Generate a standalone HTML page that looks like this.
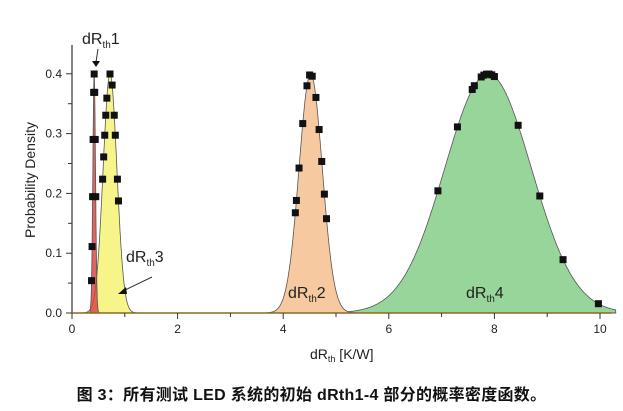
<!DOCTYPE html>
<html><head><meta charset="utf-8"><style>
body{margin:0;background:#fff;width:623px;height:411px;overflow:hidden}
svg text{font-family:"Liberation Sans",sans-serif;fill:#222}
.cap{position:absolute;left:0;top:381px;width:623px;text-align:center;font:bold 16px "Liberation Sans","Noto Sans CJK SC",sans-serif;color:#111;letter-spacing:0.3px}
</style></head><body>
<svg id="s" width="623" height="411" style="position:absolute;left:0;top:0"></svg>
<div class="cap">图 3：所有测试 LED 系统的初始 dRth1-4 部分的概率密度函数。</div>
<script>
const X=x=>72+x*52.8, Y=y=>313-y*597.5;
const s=document.getElementById('s');let h='';
function curve(m,sd,fill,pts){
 let d='M'+X(0)+','+Y(0);
 for(let x=0;x<=10.3;x+=0.005){d+=' L'+X(x).toFixed(1)+','+Y(0.4*Math.exp(-((x-m)**2)/(2*sd*sd))).toFixed(1);}
 d+=' L'+X(10.3)+','+Y(0)+' Z';
 h+=`<path d="${d}" fill="${fill}" stroke="#555" stroke-width="0.8"/>`;
 return pts.map(x=>[x,0.4*Math.exp(-((x-m)**2)/(2*sd*sd))]);
}
let P=[];
P=P.concat(curve(7.88,0.82,'#98d59a',[6.93,7.3,7.58,7.62,7.75,7.8,7.85,7.9,7.95,8.0,8.45,8.86,9.3,9.97]));
P=P.concat(curve(4.52,0.22,'#f6c9a0',[4.23,4.25,4.3,4.37,4.45,4.5,4.55,4.62,4.68,4.73,4.78,4.82]));
P=P.concat(curve(0.72,0.13,'#f7f58a',[0.58,0.6,0.62,0.64,0.66,0.72,0.76,0.8,0.82,0.86,0.88]));
P=P.concat(curve(0.42,0.025,'rgba(220,60,60,0.8)',[0.37,0.38,0.39,0.4,0.41,0.42,0.43,0.44,0.45]));
P.forEach(([x,y])=>{h+=`<rect x="${X(x)-3.5}" y="${Y(y)-3.5}" width="7" height="7" fill="#111"/>`;});
h+=`<line x1="72" y1="45" x2="72" y2="313" stroke="#333" stroke-width="1.2"/><line x1="72" y1="313" x2="612" y2="313" stroke="#8a6a20" stroke-width="1.5"/>`;
for(let i=0;i<=10;i++){const x=X(i);h+=`<line x1="${x}" y1="313" x2="${x}" y2="${i%2?317:319}" stroke="#333"/>`;if(i%2==0)h+=`<text x="${x}" y="333" font-size="12" text-anchor="middle">${i}</text>`;}
for(let i=0;i<=8;i++){const y=313-i*29.9;h+=`<line x1="${i%2?68:66}" y1="${y}" x2="72" y2="${y}" stroke="#333"/>`;if(i%2==0)h+=`<text x="62" y="${y+4}" font-size="12" text-anchor="end">${(i/20).toFixed(1)}</text>`;}
h+=`<text transform="translate(35,180) rotate(-90)" font-size="14" text-anchor="middle">Probability Density</text>`;
h+=`<text x="310" y="359" font-size="14">dR<tspan font-size="9" dy="3">th</tspan><tspan dy="-3"> [K/W]</tspan></text>`;
const lab=(x,y,n)=>`<text x="${x}" y="${y}" font-size="16">dR<tspan font-size="10" dy="4">th</tspan><tspan dy="-4">${n}</tspan></text>`;
h+=lab(82,44,1)+lab(126,262,3)+lab(288,298,2)+lab(466,298,4);
h+=`<line x1="98" y1="49" x2="96" y2="62" stroke="#333"/><path d="M92,61 L100,61 L96,67Z" fill="#111"/>`;
h+=`<line x1="152" y1="277" x2="125" y2="290" stroke="#333"/><path d="M118,294 L126,287 L127,294Z" fill="#111"/>`;
s.innerHTML=h;
</script>
</body></html>
